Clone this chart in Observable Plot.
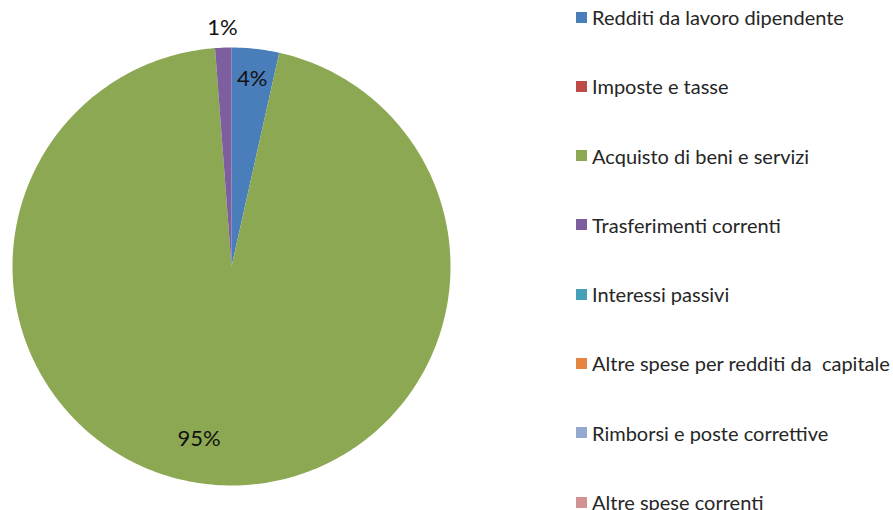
<!DOCTYPE html>
<html>
<head>
<meta charset="utf-8">
<script src="https://cdn.jsdelivr.net/npm/d3@7"></script>
<script src="https://cdn.jsdelivr.net/npm/@observablehq/plot@0.6"></script>
<style>
  body { margin: 0; background: #fff; font-family: Lato, "Open Sans", sans-serif; }
  #wrap { position: relative; width: 893px; height: 510px; overflow: hidden; }
  #legend { position: absolute; left: 576px; top: 5px; }
  .item { display: flex; align-items: center; height: 24px; margin-bottom: 45.3px; font-size: 20px; color: #262626; white-space: pre; }
  .sw { width: 11px; height: 11px; margin-right: 5px; flex: none; }
</style>
</head>
<body>
<div id="wrap"></div>
<script>
const categories = [
  "Redditi da lavoro dipendente",
  "Imposte e tasse",
  "Acquisto di beni e servizi",
  "Trasferimenti correnti",
  "Interessi passivi",
  "Altre spese per redditi da  capitale",
  "Rimborsi e poste correttive",
  "Altre spese correnti"
];
const values = [3.5, 0, 95.3, 1.2, 0, 0, 0, 0];
const colors = ["#4A7EBB", "#BE4B48", "#8DA852", "#7D5FA0", "#45A0B8", "#E5853F", "#93A9CF", "#D09392"];

const total = d3.sum(values);
const slices = [];
const labels = [];
let acc = 0;
categories.forEach((c, i) => {
  const a0 = acc / total * 2 * Math.PI;
  acc += values[i];
  const a1 = acc / total * 2 * Math.PI;
  if (values[i] <= 0) return;
  const n = Math.max(2, Math.ceil((a1 - a0) * 180 / Math.PI));
  slices.push({cat: c, x: 0, y: 0});
  for (let k = 0; k <= n; k++) {
    const a = a0 + (a1 - a0) * k / n;
    slices.push({cat: c, x: Math.sin(a), y: Math.cos(a)});
  }
  const pct = values[i] / total;
  const am = (a0 + a1) / 2;
  const r = pct < 0.02 ? 1.09 : (pct > 0.5 ? 0.79 : 0.86);
  labels.push({cat: c, x: r * Math.sin(am), y: r * Math.cos(am), text: Math.round(pct * 100) + "%", big: pct > 0.5});
});

const chart = Plot.plot({
  width: 893,
  height: 510,
  marginLeft: 12,
  marginRight: 443,
  marginTop: 47,
  marginBottom: 25,
  x: {domain: [-1, 1], axis: null},
  y: {domain: [-1, 1], axis: null},
  color: {domain: categories, range: colors},
  style: {fontFamily: "Lato, 'Open Sans', sans-serif", background: "transparent"},
  marks: [
    Plot.line(slices, {x: "x", y: "y", z: "cat", fill: "cat", stroke: "none", curve: "linear-closed"}),
    Plot.text(labels.filter(d => !d.big), {x: "x", y: "y", text: "text", fontSize: 22, fill: "#111"}),
    Plot.text(labels.filter(d => d.big), {x: "x", y: "y", text: "text", fontSize: 22, fill: "#111", dx: -20})
  ]
});
const wrap = document.getElementById("wrap");
wrap.appendChild(chart);

const legend = document.createElement("div");
legend.id = "legend";
categories.forEach((c, i) => {
  const it = document.createElement("div");
  it.className = "item";
  const sw = document.createElement("span");
  sw.className = "sw";
  sw.style.background = colors[i];
  const t = document.createElement("span");
  t.textContent = c;
  it.appendChild(sw);
  it.appendChild(t);
  legend.appendChild(it);
});
wrap.appendChild(legend);
</script>
</body>
</html>
